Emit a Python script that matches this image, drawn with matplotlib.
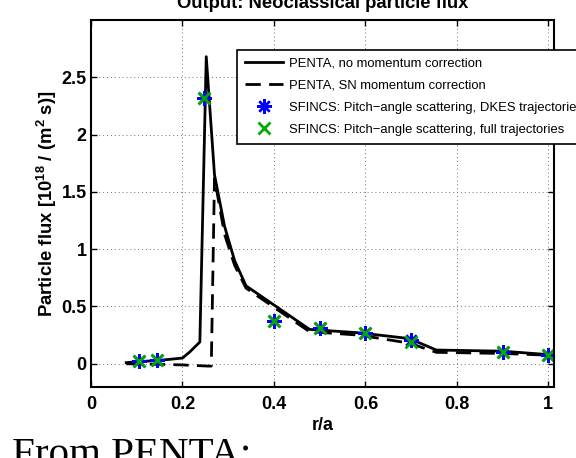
import matplotlib
matplotlib.use("Agg")
import matplotlib.pyplot as plt

plt.rcParams["font.family"] = ["Liberation Sans", "DejaVu Sans"]
plt.rcParams["mathtext.fontset"] = "custom"
plt.rcParams["mathtext.rm"] = "Liberation Sans"
plt.rcParams["mathtext.bf"] = "Liberation Sans:bold"

# PENTA, no momentum correction
r_penta = [0.077, 0.11, 0.15, 0.20, 0.215, 0.238, 0.252, 0.27, 0.292, 0.314,
           0.339, 0.478, 0.587, 0.696, 0.755, 0.90, 1.0]
flux_penta = [0.01, 0.02, 0.03, 0.05, 0.10, 0.19, 2.68, 1.65, 1.20, 0.90,
              0.68, 0.30, 0.27, 0.22, 0.12, 0.11, 0.08]

# PENTA, SN momentum correction
r_penta_sn = [0.077, 0.15, 0.20, 0.255, 0.263, 0.27, 0.292, 0.314, 0.339,
              0.478, 0.587, 0.696, 0.755, 0.90, 1.0]
flux_penta_sn = [0.0, -0.005, -0.01, -0.02, -0.02, 1.62, 1.13, 0.86, 0.66,
                 0.28, 0.25, 0.18, 0.10, 0.09, 0.075]

# SFINCS points
r_sfincs = [0.106, 0.145, 0.248, 0.40, 0.50, 0.60, 0.70, 0.90, 1.00]
flux_dkes = [0.025, 0.03, 2.32, 0.37, 0.31, 0.27, 0.21, 0.10, 0.077]
flux_full = [0.025, 0.03, 2.32, 0.37, 0.31, 0.27, 0.19, 0.10, 0.077]

x_ticks = [0, 0.2, 0.4, 0.6, 0.8, 1.0]
x_tick_labels = ["0", "0.2", "0.4", "0.6", "0.8", "1"]
y_ticks = [0, 0.5, 1.0, 1.5, 2.0, 2.5]
y_tick_labels = ["0", "0.5", "1", "1.5", "2", "2.5"]

fig = plt.figure(figsize=(5.76, 4.58), dpi=100)
ax = fig.add_axes([91 / 576, (458 - 386.7) / 458, (554.3 - 91) / 576, (386.7 - 20) / 458])

ax.plot(r_penta, flux_penta, "-", color="black", lw=2.0,
        label="PENTA, no momentum correction")
ax.plot(r_penta_sn, flux_penta_sn, "--", color="black", lw=2.0, dashes=(5.5, 3),
        label="PENTA, SN momentum correction")
ax.plot(r_sfincs, flux_dkes, linestyle="none", marker=(8, 2, 0), ms=10.5,
        mec="blue", mew=1.7, color="blue",
        label="SFINCS: Pitch\u2212angle scattering, DKES trajectories")
ax.plot(r_sfincs, flux_full, linestyle="none", marker="x", ms=8,
        mec="#00aa00", mew=2.0, color="#00aa00",
        label="SFINCS: Pitch\u2212angle scattering, full trajectories")

ax.set_xlim(0, 1.013)
ax.set_ylim(-0.2, 3.0)
ax.set_xticks(x_ticks)
ax.set_xticklabels(x_tick_labels)
ax.set_yticks(y_ticks)
ax.set_yticklabels(y_tick_labels)
ax.tick_params(direction="in", top=True, right=True, length=4, width=1.0,
               labelsize=13)
ax.tick_params(axis="x", pad=7)
ax.tick_params(axis="y", pad=3)
for lab in ax.get_xticklabels() + ax.get_yticklabels():
    lab.set_fontweight("bold")
for sp in ax.spines.values():
    sp.set_linewidth(1.5)

ax.grid(True, color="0.45", linestyle=(0, (1, 3)), lw=0.7)

ax.set_xlabel("r/a", fontsize=13, fontweight="bold")
ax.xaxis.set_label_coords(0.5, -0.082)
ax.set_ylabel(r"Particle flux [10$^{\mathbf{18}}$ / (m$^{\mathbf{2}}$ s)]",
              fontsize=13.3, fontweight="bold")
ax.yaxis.set_label_coords(-0.068, 0.5)

leg = ax.legend(loc="upper left", bbox_to_anchor=(237 / 576, 1 - 50 / 458),
                bbox_transform=fig.transFigure, fontsize=9.4, fancybox=False,
                framealpha=1, edgecolor="black", borderpad=0.6,
                labelspacing=0.75, handlelength=2.9, handletextpad=0.45,
                borderaxespad=0)
leg.get_frame().set_linewidth(1.2)

fig.text(323 / 576, 1 - 8 / 458, "Output: Neoclassical particle flux",
         ha="center", va="baseline", fontsize=13.3, fontweight="bold")
fig.text(12 / 576, -7 / 458, "From PENTA:", ha="left", va="baseline",
         fontsize=29.5, family="Liberation Serif")

fig.savefig("out.png", dpi=100)
